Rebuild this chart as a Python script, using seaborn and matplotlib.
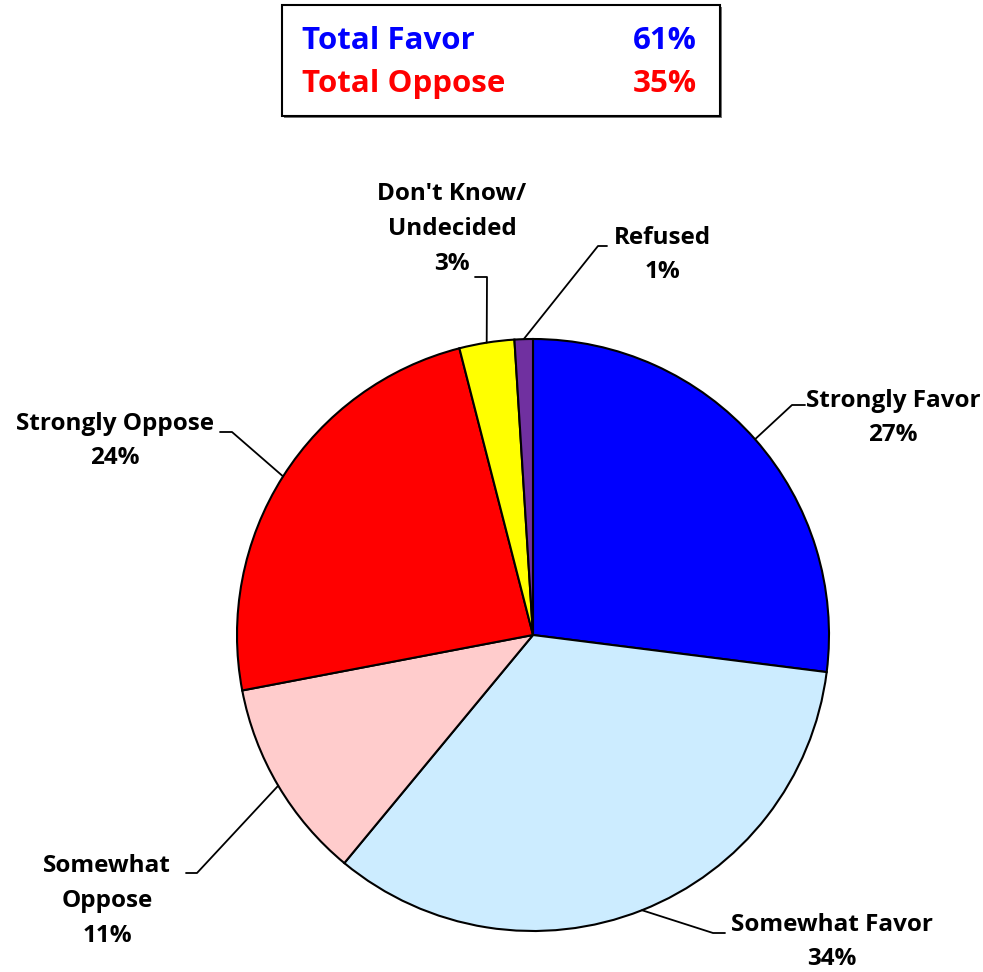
import numpy as np
import matplotlib.pyplot as plt
import seaborn as sns
from matplotlib.patches import Rectangle

# survey responses (percent)
categories = ["Strongly Favor", "Somewhat Favor", "Somewhat Oppose",
              "Strongly Oppose", "Don't Know/\nUndecided", "Refused"]
display_names = ["Strongly Favor", "Somewhat Favor", "Somewhat\nOppose",
                 "Strongly Oppose", "Don't Know/\nUndecided", "Refused"]
values = [27, 34, 11, 24, 3, 1]
colors = ["#0000FF", "#CCECFF", "#FFCCCC", "#FF0000", "#FFFF00", "#7030A0"]

summary_names = ["Total Favor", "Total Oppose"]
summary_values = [61, 35]
summary_colors = ["#0000FF", "#FF0000"]

W, H = 983, 972
CX, CY, R = 533, H - 635, 296

# label block centre and leader elbow / end (pixel coords from top)
label_pos = [(893, 418), (832, 942), (107, 901), (115, 441), (452, 229), (662, 255)]
elbows = [((792, 405), (805, 405)), ((713, 933), (725, 933)), ((197, 873), (186, 873)),
          ((232, 432), (220, 432)), ((487, 277), (475, 277)), ((598, 246), (607, 246))]

sns.set_theme(style="white")
plt.rcParams['font.family'] = ['Open Sans', 'DejaVu Sans']

fig = plt.figure(figsize=(W / 100, H / 100), dpi=100)
ax = fig.add_axes([0, 0, 1, 1])

ax.pie(values, colors=colors, startangle=90, counterclock=False,
       center=(CX, CY), radius=R,
       wedgeprops=dict(edgecolor='black', linewidth=1.5))
ax.set_xlim(0, W)
ax.set_ylim(0, H)
ax.axis('off')

# leader lines + labels
cum = np.cumsum([0] + values[:-1])
for i, v in enumerate(values):
    mid = np.deg2rad(90 - (cum[i] + v / 2) * 3.6)
    ax_, ay_ = CX + R * np.cos(mid), CY + R * np.sin(mid)
    (ex, ey), (fx, fy) = elbows[i]
    ax.plot([ax_, ex, fx], [ay_, H - ey, H - fy], color='black', lw=1.3, zorder=3)
    lx, ly = label_pos[i]
    ax.text(lx, H - ly, f"{display_names[i]}\n{v}%", ha='center', va='center',
            fontsize=17.5, fontweight='bold', linespacing=1.6, color='black')

# summary box
ax.add_patch(Rectangle((284, H - 118), 438, 111, facecolor='#777777',
                       edgecolor='none', zorder=1))
ax.add_patch(Rectangle((282, H - 116), 438, 111, facecolor='white',
                       edgecolor='black', linewidth=1.5, zorder=2))
for j, (name, val, col) in enumerate(zip(summary_names, summary_values, summary_colors)):
    y = H - (41 + j * 43)
    ax.text(302, y, name, ha='left', va='center', fontsize=22.5,
            fontweight='bold', color=col, zorder=3)
    ax.text(697, y, f"{val}%", ha='right', va='center', fontsize=22.5,
            fontweight='bold', color=col, zorder=3)

fig.savefig("out.png", dpi=100)
